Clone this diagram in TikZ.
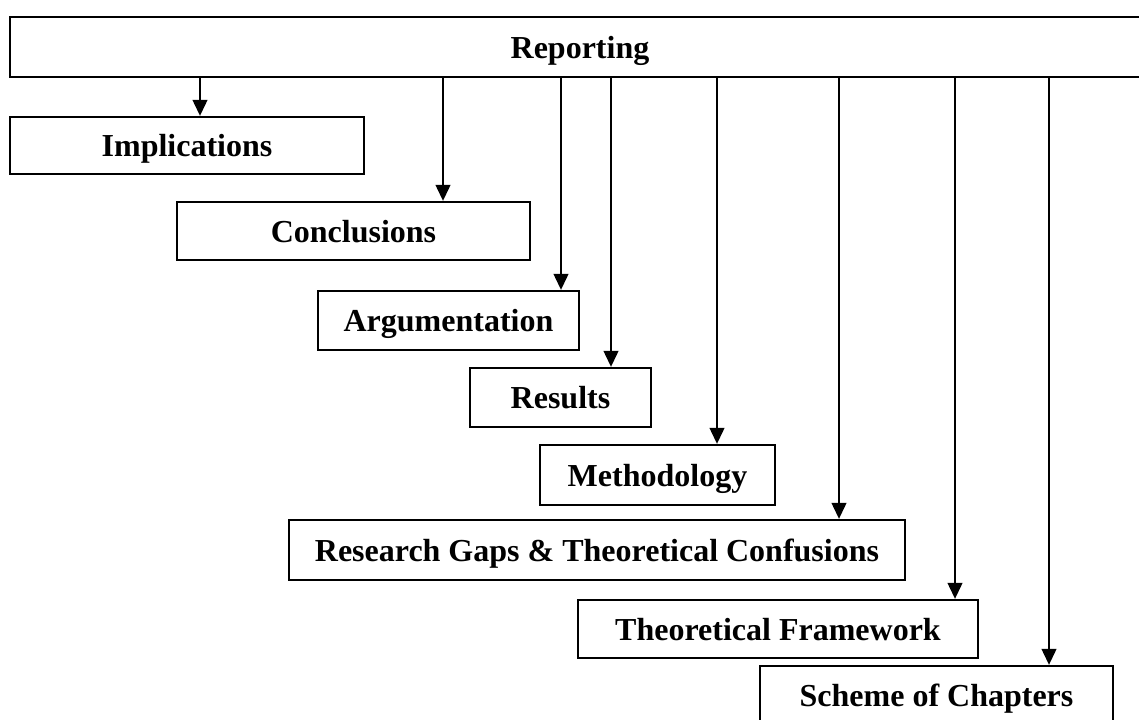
\documentclass[tikz,border=0pt]{standalone}
\usepackage{fontspec}
\setmainfont{Liberation Serif}
\usetikzlibrary{arrows.meta}
\newcommand\pxu{0.75pt}
\tikzset{
  box/.style={draw, line width=1.7pt, inner sep=0pt, text height=17pt, text depth=0pt,
    font=\fontsize{24}{28}\selectfont\bfseries},
  arr/.style={line width=1.6pt, -{Triangle[length=12pt,width=11pt]}}
}
\begin{document}
\begin{tikzpicture}[x=0.75pt,y=-0.75pt]
\clip (0,0) rectangle (1139,720);

\node[box, minimum width=1140*\pxu, minimum height=60*\pxu] (rep) at (580,47) {Reporting};

\node[box, minimum width=354*\pxu, minimum height=57*\pxu] (imp) at (187,145.5) {Implications};
\node[box, minimum width=353*\pxu, minimum height=58*\pxu] (con) at (353.5,231) {Conclusions};
\node[box, minimum width=261*\pxu, minimum height=59*\pxu] (arg) at (448.5,320.5) {Argumentation};
\node[box, minimum width=181*\pxu, minimum height=59*\pxu] (res) at (560.5,397.5) {Results};
\node[box, minimum width=235*\pxu, minimum height=60*\pxu] (met) at (657.5,475) {Methodology};
\node[box, minimum width=616*\pxu, minimum height=60*\pxu] (gap) at (597,550) {Research Gaps \& Theoretical Confusions};
\node[box, minimum width=400*\pxu, minimum height=58*\pxu] (thf) at (778,629) {Theoretical Framework};
\node[box, minimum width=353*\pxu, minimum height=59*\pxu] (sch) at (936.5,695.5) {Scheme of Chapters};

%-------------------------------------
\draw[arr] (rep.south -| 200,0) -- (imp.north -| 200,0);
\draw[arr] (rep.south -| 443,0) -- (con.north -| 443,0);
\draw[arr] (rep.south -| 561,0) -- (arg.north -| 561,0);
\draw[arr] (rep.south -| 611,0) -- (res.north -| 611,0);
\draw[arr] (rep.south -| 717,0) -- (met.north -| 717,0);
\draw[arr] (rep.south -| 839,0) -- (gap.north -| 839,0);
\draw[arr] (rep.south -| 955,0) -- (thf.north -| 955,0);
\draw[arr] (rep.south -| 1049,0) -- (sch.north -| 1049,0);
\end{tikzpicture}
\end{document}
